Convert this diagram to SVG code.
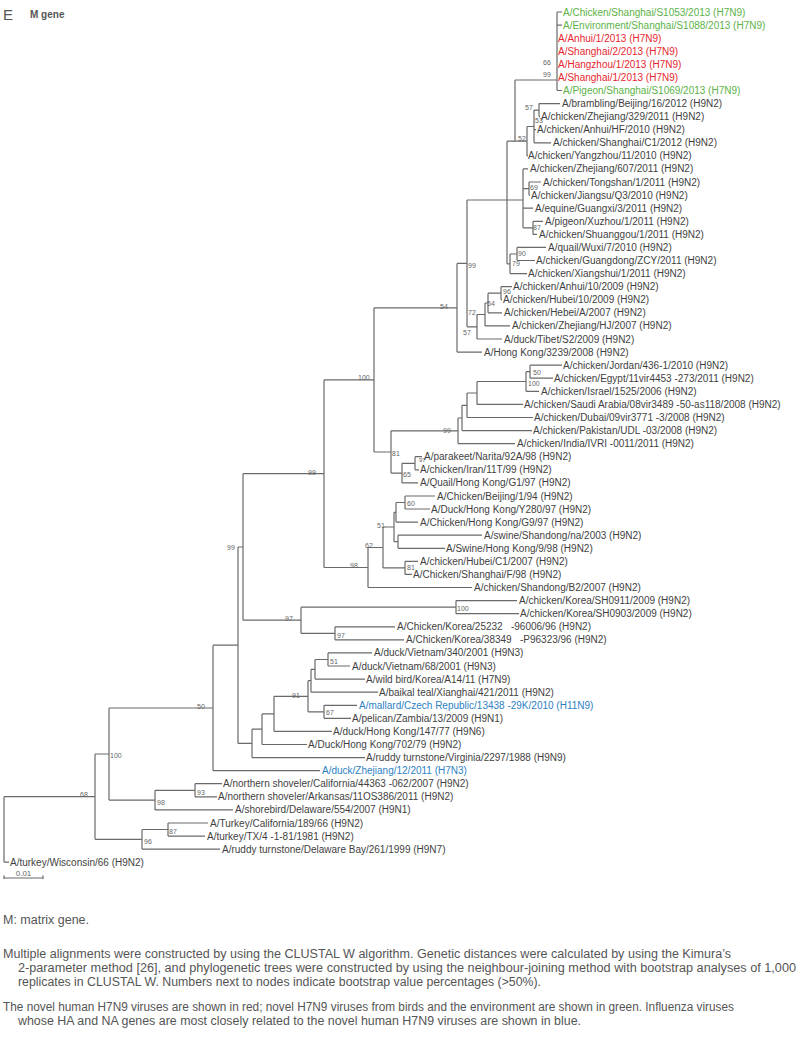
<svg xmlns="http://www.w3.org/2000/svg" width="800" height="1038" viewBox="0 0 800 1038">
<style>
.br{fill:none;stroke:#6a6a6a;stroke-width:1.2}
.t{font-family:"Liberation Sans",Arial,sans-serif;font-size:10px;fill:#3f3f3f}
.g{fill:#5cb247}
.r{fill:#e6262e}
.b{fill:#2d7fc3}
.bs{font-family:"Liberation Sans",Arial,sans-serif;font-size:7px;fill:#666}
.f{font-family:"Liberation Sans",Arial,sans-serif;font-size:12px;fill:#555}
</style>
<rect width="800" height="1038" fill="#fff"/>
<g id="header">
<text x="3" y="20" style="font-family:'Liberation Sans',Arial,sans-serif;font-size:15px;fill:#555">E</text>
<text x="30" y="18" style="font-family:'Liberation Sans',Arial,sans-serif;font-size:10px;font-weight:bold;fill:#555">M gene</text>
</g>
<g id="branches" class="br">
<path d="M557,12V90.5M557,12H562M557,25.1H562M557,90.5H562M515,80H557"/>
<path d="M515,80V141.2"/>
<path d="M507,141.2H527M527,126.5V155.9M527,126.5H534M527,155.9H528"/>
<path d="M534,110.1V142.8M534,110.1H539M534,129.7H536M534,142.8H551"/>
<path d="M539,103.6V116.6M539,103.6H560M539,116.6H540"/>
<path d="M507,141.2V263.8M507,200H523M507,263.8H510"/>
<path d="M523,168.9V227.8M523,168.9H528M523,188.6H529M523,208.2H533M523,227.8H533"/>
<path d="M529,182V195.1M529,182H541M529,195.1H530"/>
<path d="M533,221.3V234.4M533,221.3H543M533,234.4H537"/>
<path d="M510,254V273.6M510,254H517M510,273.6H527"/>
<path d="M517,247.4V260.5M517,247.4H546M517,260.5H535"/>
<path d="M467,200H507M467,200V326.8M467,326.8H477"/>
<path d="M477,314.5V339M477,314.5H485M477,339H502"/>
<path d="M485,303V325.9M485,303H488M485,325.9H510"/>
<path d="M488,293.2V312.8M488,293.2H501M488,312.8H502"/>
<path d="M501,286.7V299.8M501,286.7H512M501,299.8H502"/>
<path d="M457,263.4V352.1M457,263.4H467M457,352.1H482"/>
<path d="M374,307.8V452M374,307.8H457M374,452H391"/>
<path d="M391,430.8V473.1M391,430.8H458M391,473.1H402"/>
<path d="M458,418V443.6M458,418H462M458,443.6H515"/>
<path d="M462,405.3V430.6M462,405.3H467M462,430.6H532"/>
<path d="M467,393V417.5M467,393H477M467,417.5H533"/>
<path d="M477,381.5V404.4M477,381.5H526M477,404.4H523"/>
<path d="M526,371.7V391.3M526,371.7H530M526,391.3H539"/>
<path d="M530,365.2V378.2M530,365.2H562M530,378.2H553"/>
<path d="M402,463.3V482.9M402,463.3H415M402,482.9H418"/>
<path d="M415,456.7V469.8M415,456.7H422M415,469.8H419"/>
<path d="M324,379.9V567.5M324,379.9H374M324,567.5H368"/>
<path d="M368,547.5V587.5M368,547.5H383M368,587.5H472"/>
<path d="M383,527V567.9M383,527H394M383,567.9H405"/>
<path d="M405,561.4V574.4M405,561.4H418M405,574.4H412"/>
<path d="M394,512.3V541.7M394,512.3H396M394,541.7H398"/>
<path d="M396,502.5V522.1M396,502.5H405M396,522.1H418"/>
<path d="M405,496V509M405,496H435M405,509H430"/>
<path d="M398,535.2V548.3M398,535.2H482M398,548.3H445"/>
<path d="M243,473.7V620.2M243,473.7H324M243,620.2H301"/>
<path d="M301,607.2V633.3M301,607.2H456M301,633.3H335"/>
<path d="M456,600.6V613.7M456,600.6H517M456,613.7H519"/>
<path d="M335,626.8V639.8M335,626.8H395M335,639.8H404"/>
<path d="M238,547V743.4M238,547H243M238,743.4H252"/>
<path d="M252,729.2V757.6M252,729.2H262M252,757.6H365"/>
<path d="M262,713.9V744.5M262,713.9H274M262,744.5H307"/>
<path d="M274,696.3V731.4M274,696.3H308M274,731.4H332"/>
<path d="M308,680.7V711.8M308,680.7H311M308,711.8H324"/>
<path d="M324,705.3V718.3M324,705.3H357M324,718.3H351"/>
<path d="M311,669.3V692.2M311,669.3H315M311,692.2H378"/>
<path d="M315,659.5V679.1M315,659.5H328M315,679.1H365"/>
<path d="M328,652.9V666M328,652.9H372M328,666H350"/>
<path d="M213,645.2V770.7M213,645.2H238M213,770.7H320"/>
<path d="M109,708V800.1M109,708H213M109,800.1H155"/>
<path d="M155,790.3V809.9M155,790.3H195M155,809.9H233"/>
<path d="M195,783.7V796.8M195,783.7H222M195,796.8H217"/>
<path d="M95,754V839.3M95,754H109M95,839.3H142"/>
<path d="M142,829.5V849.1M142,829.5H168M142,849.1H220"/>
<path d="M168,823V836.1M168,823H208M168,836.1H205"/>
<path d="M4,796.7V862.2M4,796.7H95M4,862.2H9"/>
</g>
<g id="scalebar">
<path class="br" d="M4,878H43M4,875.5V879M43,875.5V879"/>
<text class="bs" x="23.5" y="876" text-anchor="middle" style="font-size:8px">0.01</text>
</g>
<g id="bootstrap" class="bs">
<text x="543" y="64.5">66</text>
<text x="543" y="76.5">99</text>
<text x="525" y="109.5">57</text>
<text x="535" y="122.5">53</text>
<text x="518" y="140.5">52</text>
<text x="530" y="189.5">69</text>
<text x="533" y="229.5">87</text>
<text x="518" y="255.5">90</text>
<text x="512" y="265.5">79</text>
<text x="468" y="267.5">99</text>
<text x="503" y="293.5">96</text>
<text x="487" y="305.5">54</text>
<text x="468" y="314.5">72</text>
<text x="463" y="334.5">57</text>
<text x="440" y="308.5">54</text>
<text x="358" y="379.5">100</text>
<text x="533" y="374.5">50</text>
<text x="528" y="385.5">100</text>
<text x="443" y="432.5">99</text>
<text x="392" y="455.5">81</text>
<text x="419" y="462" style="font-size:6px">97</text>
<text x="403" y="476.5">65</text>
<text x="407" y="505.5">60</text>
<text x="377" y="527.5">51</text>
<text x="365" y="547.5">62</text>
<text x="407" y="569.5">81</text>
<text x="350" y="567.5">98</text>
<text x="308" y="474.5">99</text>
<text x="227" y="549.5">99</text>
<text x="457" y="610.5">100</text>
<text x="285" y="620.5">97</text>
<text x="337" y="637.5">97</text>
<text x="330" y="663.5">51</text>
<text x="292" y="697.5">91</text>
<text x="326" y="714.5">67</text>
<text x="197" y="708.5">50</text>
<text x="110" y="757.5">100</text>
<text x="197" y="794.5">93</text>
<text x="157" y="804.5">98</text>
<text x="80" y="796.5">68</text>
<text x="169" y="833.5">87</text>
<text x="144" y="843.5">96</text>
</g>
<g id="leaves" class="t">
<g id="leaf1"><text class="t g" x="563" y="15.5">A/Chicken/Shanghai/S1053/2013 (H7N9)</text></g>
<g id="leaf2"><text class="t g" x="563" y="28.6">A/Environment/Shanghai/S1088/2013 (H7N9)</text></g>
<g id="leaf3"><text class="t r" x="558" y="41.7">A/Anhui/1/2013 (H7N9)</text></g>
<g id="leaf4"><text class="t r" x="558" y="54.7">A/Shanghai/2/2013 (H7N9)</text></g>
<g id="leaf5"><text class="t r" x="558" y="67.8">A/Hangzhou/1/2013 (H7N9)</text></g>
<g id="leaf6"><text class="t r" x="558" y="80.9">A/Shanghai/1/2013 (H7N9)</text></g>
<g id="leaf7"><text class="t g" x="563" y="94">A/Pigeon/Shanghai/S1069/2013 (H7N9)</text></g>
<g id="leaf8"><text x="562" y="107.1">A/brambling/Beijing/16/2012 (H9N2)</text></g>
<g id="leaf9"><text x="541" y="120.1">A/chicken/Zhejiang/329/2011 (H9N2)</text></g>
<g id="leaf10"><text x="537" y="133.2">A/chicken/Anhui/HF/2010 (H9N2)</text></g>
<g id="leaf11"><text x="553" y="146.3">A/chicken/Shanghai/C1/2012 (H9N2)</text></g>
<g id="leaf12"><text x="528" y="159.4">A/chicken/Yangzhou/11/2010 (H9N2)</text></g>
<g id="leaf13"><text x="530" y="172.4">A/chicken/Zhejiang/607/2011 (H9N2)</text></g>
<g id="leaf14"><text x="543" y="185.5">A/chicken/Tongshan/1/2011 (H9N2)</text></g>
<g id="leaf15"><text x="531" y="198.6">A/chicken/Jiangsu/Q3/2010 (H9N2)</text></g>
<g id="leaf16"><text x="535" y="211.7">A/equine/Guangxi/3/2011 (H9N2)</text></g>
<g id="leaf17"><text x="545" y="224.8">A/pigeon/Xuzhou/1/2011 (H9N2)</text></g>
<g id="leaf18"><text x="539" y="237.9">A/chicken/Shuanggou/1/2011 (H9N2)</text></g>
<g id="leaf19"><text x="548" y="250.9">A/quail/Wuxi/7/2010 (H9N2)</text></g>
<g id="leaf20"><text x="536" y="264">A/chicken/Guangdong/ZCY/2011 (H9N2)</text></g>
<g id="leaf21"><text x="528" y="277.1">A/chicken/Xiangshui/1/2011 (H9N2)</text></g>
<g id="leaf22"><text x="513" y="290.2">A/chicken/Anhui/10/2009 (H9N2)</text></g>
<g id="leaf23"><text x="503" y="303.3">A/chicken/Hubei/10/2009 (H9N2)</text></g>
<g id="leaf24"><text x="504" y="316.3">A/chicken/Hebei/A/2007 (H9N2)</text></g>
<g id="leaf25"><text x="512" y="329.4">A/chicken/Zhejiang/HJ/2007 (H9N2)</text></g>
<g id="leaf26"><text x="504" y="342.5">A/duck/Tibet/S2/2009 (H9N2)</text></g>
<g id="leaf27"><text x="484" y="355.6">A/Hong Kong/3239/2008 (H9N2)</text></g>
<g id="leaf28"><text x="563" y="368.7">A/chicken/Jordan/436-1/2010 (H9N2)</text></g>
<g id="leaf29"><text x="554" y="381.7">A/chicken/Egypt/11vir4453 -273/2011 (H9N2)</text></g>
<g id="leaf30"><text x="541" y="394.8">A/chicken/Israel/1525/2006 (H9N2)</text></g>
<g id="leaf31"><text x="524" y="407.9">A/chicken/Saudi Arabia/08vir3489 -50-as118/2008 (H9N2)</text></g>
<g id="leaf32"><text x="534" y="421">A/chicken/Dubai/09vir3771 -3/2008 (H9N2)</text></g>
<g id="leaf33"><text x="533" y="434.1">A/chicken/Pakistan/UDL -03/2008 (H9N2)</text></g>
<g id="leaf34"><text x="517" y="447.1">A/chicken/India/IVRI -0011/2011 (H9N2)</text></g>
<g id="leaf35"><text x="424" y="460.2">A/parakeet/Narita/92A/98 (H9N2)</text></g>
<g id="leaf36"><text x="420" y="473.3">A/chicken/Iran/11T/99 (H9N2)</text></g>
<g id="leaf37"><text x="420" y="486.4">A/Quail/Hong Kong/G1/97 (H9N2)</text></g>
<g id="leaf38"><text x="437" y="499.5">A/Chicken/Beijing/1/94 (H9N2)</text></g>
<g id="leaf39"><text x="431" y="512.5">A/Duck/Hong Kong/Y280/97 (H9N2)</text></g>
<g id="leaf40"><text x="420" y="525.6">A/Chicken/Hong Kong/G9/97 (H9N2)</text></g>
<g id="leaf41"><text x="484" y="538.7">A/swine/Shandong/na/2003 (H9N2)</text></g>
<g id="leaf42"><text x="446" y="551.8">A/Swine/Hong Kong/9/98 (H9N2)</text></g>
<g id="leaf43"><text x="420" y="564.9">A/chicken/Hubei/C1/2007 (H9N2)</text></g>
<g id="leaf44"><text x="413" y="577.9">A/Chicken/Shanghai/F/98 (H9N2)</text></g>
<g id="leaf45"><text x="474" y="591">A/chicken/Shandong/B2/2007 (H9N2)</text></g>
<g id="leaf46"><text x="519" y="604.1">A/chicken/Korea/SH0911/2009 (H9N2)</text></g>
<g id="leaf47"><text x="520" y="617.2">A/chicken/Korea/SH0903/2009 (H9N2)</text></g>
<g id="leaf48"><text x="397" y="630.3" xml:space="preserve">A/Chicken/Korea/25232   -96006/96 (H9N2)</text></g>
<g id="leaf49"><text x="406" y="643.3" xml:space="preserve">A/Chicken/Korea/38349   -P96323/96 (H9N2)</text></g>
<g id="leaf50"><text x="374" y="656.4">A/duck/Vietnam/340/2001 (H9N3)</text></g>
<g id="leaf51"><text x="352" y="669.5">A/duck/Vietnam/68/2001 (H9N3)</text></g>
<g id="leaf52"><text x="366" y="682.6">A/wild bird/Korea/A14/11 (H7N9)</text></g>
<g id="leaf53"><text x="379" y="695.7">A/baikal teal/Xianghai/421/2011 (H9N2)</text></g>
<g id="leaf54"><text class="t b" x="359" y="708.8">A/mallard/Czech Republic/13438 -29K/2010 (H11N9)</text></g>
<g id="leaf55"><text x="352" y="721.8">A/pelican/Zambia/13/2009 (H9N1)</text></g>
<g id="leaf56"><text x="333" y="734.9">A/duck/Hong Kong/147/77 (H9N6)</text></g>
<g id="leaf57"><text x="308" y="748">A/Duck/Hong Kong/702/79 (H9N2)</text></g>
<g id="leaf58"><text x="366" y="761.1">A/ruddy turnstone/Virginia/2297/1988 (H9N9)</text></g>
<g id="leaf59"><text class="t b" x="322" y="774.2">A/duck/Zhejiang/12/2011 (H7N3)</text></g>
<g id="leaf60"><text x="223" y="787.2">A/northern shoveler/California/44363 -062/2007 (H9N2)</text></g>
<g id="leaf61"><text x="218" y="800.3">A/northern shoveler/Arkansas/11OS386/2011 (H9N2)</text></g>
<g id="leaf62"><text x="235" y="813.4">A/shorebird/Delaware/554/2007 (H9N1)</text></g>
<g id="leaf63"><text x="210" y="826.5">A/Turkey/California/189/66 (H9N2)</text></g>
<g id="leaf64"><text x="207" y="839.6">A/turkey/TX/4 -1-81/1981 (H9N2)</text></g>
<g id="leaf65"><text x="222" y="852.6">A/ruddy turnstone/Delaware Bay/261/1999 (H9N7)</text></g>
<g id="leaf66"><text x="10" y="865.7">A/turkey/Wisconsin/66 (H9N2)</text></g>
</g>
<g id="notes" class="f">
<text x="3" y="924" textLength="86" lengthAdjust="spacingAndGlyphs">M: matrix gene.</text>
<text x="3" y="958" textLength="728" lengthAdjust="spacingAndGlyphs">Multiple alignments were constructed by using the CLUSTAL W algorithm. Genetic distances were calculated by using the Kimura’s</text>
<text x="18" y="972" textLength="778" lengthAdjust="spacingAndGlyphs">2-parameter method [26], and phylogenetic trees were constructed by using the neighbour-joining method with bootstrap analyses of 1,000</text>
<text x="18" y="986" textLength="523" lengthAdjust="spacingAndGlyphs">replicates in CLUSTAL W. Numbers next to nodes indicate bootstrap value percentages (&gt;50%).</text>
<text x="3" y="1011" textLength="731" lengthAdjust="spacingAndGlyphs">The novel human H7N9 viruses are shown in red; novel H7N9 viruses from birds and the environment are shown in green. Influenza viruses</text>
<text x="18" y="1025" textLength="563" lengthAdjust="spacingAndGlyphs">whose HA and NA genes are most closely related to the novel human H7N9 viruses are shown in blue.</text>
</g>
</svg>
